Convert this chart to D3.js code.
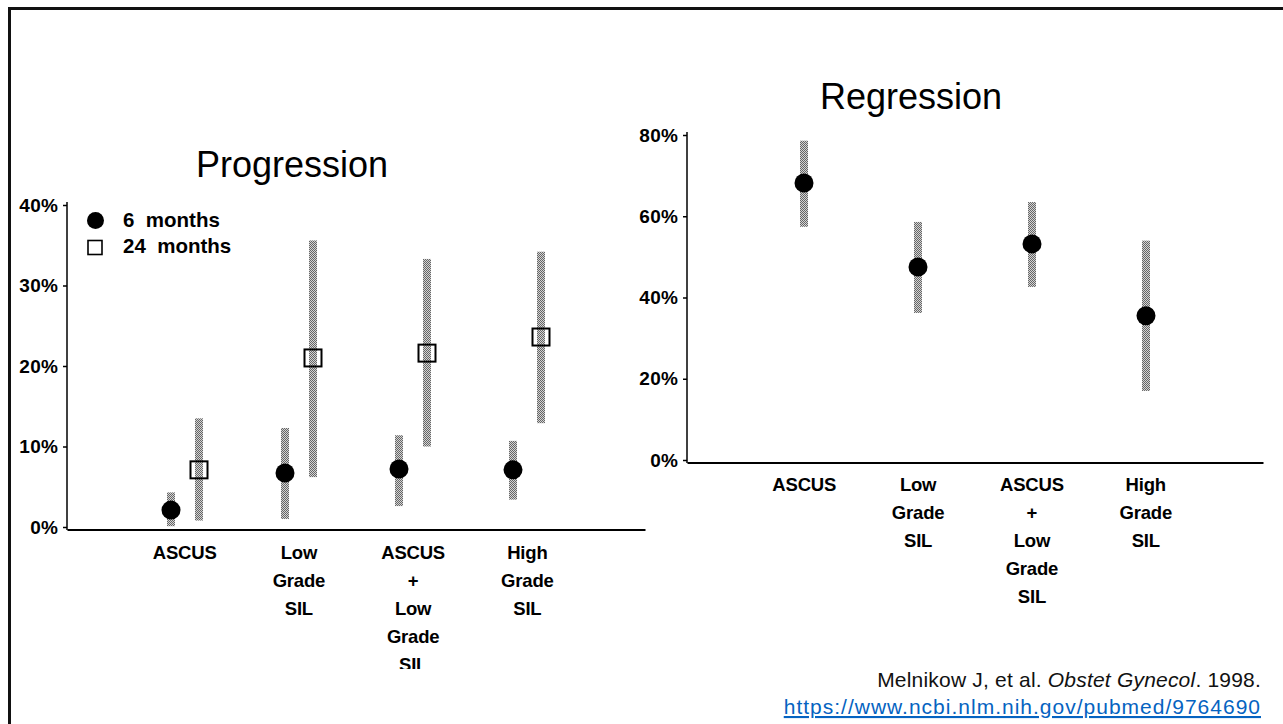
<!DOCTYPE html>
<html>
<head>
<meta charset="utf-8">
<script src="https://cdn.jsdelivr.net/npm/d3@7"></script>
<style>
  html, body { margin: 0; padding: 0; background: #fff; }
  svg { display: block; }
  .ax text { font-family: "Liberation Sans", Arial, sans-serif; font-weight: bold; fill: #000; }
</style>
</head>
<body>
<div id="chart"></div>
<script>
(function(window, document, undefined) {

    //類別 (每行一個字串)
    var categories = ["ASCUS", "Low Grade SIL", "ASCUS + Low Grade SIL", "High Grade SIL"];
    var categoryLines = [["ASCUS"], ["Low", "Grade", "SIL"], ["ASCUS", "+", "Low", "Grade", "SIL"], ["High", "Grade", "SIL"]];

    //Progression 6 months (%)
    var prog6 = [2.1, 6.7, 7.2, 7.1];
    var prog6Lo = [0.1, 1.0, 2.6, 3.4];
    var prog6Hi = [4.3, 12.3, 11.4, 10.7];

    //Progression 24 months (%)
    var prog24 = [7.1, 21.0, 21.6, 23.6];
    var prog24Lo = [0.8, 6.2, 10.0, 12.9];
    var prog24Hi = [13.5, 35.6, 33.3, 34.2];

    //Regression (%)
    var regr = [68.2, 47.5, 53.2, 35.5];
    var regrLo = [57.4, 36.2, 42.6, 17.0];
    var regrHi = [78.6, 58.6, 63.5, 54.0];

    var progTicks = [0, 10, 20, 30, 40];
    var regrTicks = [0, 20, 40, 60, 80];

    var legendLabels = ["6  months", "24  months"];

    var W = 1283, H = 724;

    var svg = d3.select("#chart").append("svg")
        .attr("width", W)
        .attr("height", H);

    //點狀灰色 (掃描的網點)
    var defs = svg.append("defs");
    var pat = defs.append("pattern")
        .attr("id", "stip")
        .attr("width", 2).attr("height", 2)
        .attr("patternUnits", "userSpaceOnUse");
    pat.append("rect").attr("width", 2).attr("height", 2).attr("fill", "#d4d4d4");
    pat.append("rect").attr("x", 0).attr("y", 0).attr("width", 1).attr("height", 1).attr("fill", "#666");
    pat.append("rect").attr("x", 1).attr("y", 1).attr("width", 1).attr("height", 1).attr("fill", "#666");

    defs.append("clipPath").attr("id", "leftClip")
        .append("rect").attr("x", 0).attr("y", 0).attr("width", 660).attr("height", 669);

    //投影片外框
    svg.append("line").attr("x1", 8).attr("x2", W).attr("y1", 8.5).attr("y2", 8.5)
        .attr("stroke", "#111").attr("stroke-width", 3);
    svg.append("line").attr("x1", 9.5).attr("x2", 9.5).attr("y1", 7).attr("y2", H)
        .attr("stroke", "#111").attr("stroke-width", 3);

    function drawPanel(g, cfg) {
        var x = d3.scaleBand()
            .domain(categories)
            .range([cfg.x0, cfg.x1])
            .paddingInner(0)
            .paddingOuter(0.53);

        var y = d3.scaleLinear()
            .domain([0, cfg.ticks[cfg.ticks.length - 1]])
            .range([cfg.y0, cfg.yTop]);

        //title
        g.append("text")
            .attr("x", cfg.titleX)
            .attr("y", cfg.titleY)
            .attr("text-anchor", "middle")
            .style("font-family", "'Liberation Sans', Arial, sans-serif")
            .style("font-size", "36px")
            .text(cfg.title);

        //y axis
        var yAxis = g.append("g")
            .attr("class", "ax")
            .attr("transform", "translate(" + cfg.x0 + ",0)")
            .call(d3.axisLeft(y).tickValues(cfg.ticks).tickSize(4).tickSizeOuter(0).tickPadding(5)
                .tickFormat(function(d) { return d + "%"; }));
        yAxis.select(".domain").remove();
        yAxis.selectAll(".tick line").attr("stroke", "#000").attr("stroke-width", 1.5);
        yAxis.selectAll(".tick text").style("font-size", "19px").style("letter-spacing", "0.2px");
        g.append("line")
            .attr("x1", cfg.x0).attr("x2", cfg.x0)
            .attr("y1", cfg.yTop - 3).attr("y2", cfg.y0 + 3)
            .attr("stroke", "#000").attr("stroke-width", 1.5);

        //x axis
        var xAxis = g.append("g")
            .attr("class", "ax")
            .attr("transform", "translate(0," + (cfg.y0 + 2.5) + ")")
            .call(d3.axisBottom(x).tickSize(0).tickSizeOuter(0).tickPadding(0));
        xAxis.select(".domain").attr("stroke", "#000").attr("stroke-width", 2);
        xAxis.selectAll(".tick text").each(function(d) {
            var t = d3.select(this).text(null).attr("y", 0).attr("dy", null)
                .style("font-size", "18.5px").style("letter-spacing", "-0.2px");
            categoryLines[categories.indexOf(d)].forEach(function(s, i) {
                t.append("tspan").attr("x", 0).attr("y", cfg.labelY + i * 28 - cfg.y0 - 2.5).text(s);
            });
        });

        //error bars + markers
        cfg.series.forEach(function(s) {
            var sg = g.append("g");
            sg.selectAll("rect.bar")
                .data(categories).enter()
                .append("rect")
                .attr("class", "bar")
                .attr("x", function(d, i) { return Math.round(x(d) + x.bandwidth() / 2 + s.dx - 4); })
                .attr("width", 8)
                .attr("y", function(d, i) { return y(s.hi[i]); })
                .attr("height", function(d, i) { return y(s.lo[i]) - y(s.hi[i]); })
                .attr("fill", "url(#stip)");

            if (s.shape === "circle") {
                sg.selectAll("circle")
                    .data(categories).enter()
                    .append("circle")
                    .attr("cx", function(d) { return Math.round(x(d) + x.bandwidth() / 2 + s.dx); })
                    .attr("cy", function(d, i) { return y(s.val[i]); })
                    .attr("r", 9.5)
                    .attr("fill", "#000");
            } else {
                sg.selectAll("rect.sq")
                    .data(categories).enter()
                    .append("rect")
                    .attr("class", "sq")
                    .attr("x", function(d) { return Math.round(x(d) + x.bandwidth() / 2 + s.dx) - 8.5; })
                    .attr("y", function(d, i) { return y(s.val[i]) - 8.5; })
                    .attr("width", 17).attr("height", 17)
                    .attr("fill", "none")
                    .attr("stroke", "#000")
                    .attr("stroke-width", 2);
            }
        });
    }

    //左: Progression
    var left = svg.append("g").attr("clip-path", "url(#leftClip)");
    drawPanel(left, {
        title: "Progression", titleX: 292, titleY: 177,
        x0: 67, x1: 645, y0: 527, yTop: 205,
        ticks: progTicks, labelY: 559,
        series: [
            {val: prog6, lo: prog6Lo, hi: prog6Hi, dx: -14, shape: "circle"},
            {val: prog24, lo: prog24Lo, hi: prog24Hi, dx: 14, shape: "square"}
        ]
    });

    //legend
    var leg = left.append("g").style("font-family", "'Liberation Sans', Arial, sans-serif")
        .style("font-size", "20.5px").style("font-weight", "bold");
    leg.append("circle").attr("cx", 95.5).attr("cy", 220.5).attr("r", 8.5).attr("fill", "#000");
    leg.append("rect").attr("x", 88).attr("y", 240.5).attr("width", 14).attr("height", 14)
        .attr("fill", "#fff").attr("stroke", "#000").attr("stroke-width", 1.6);
    leg.selectAll("text.lg")
        .data(legendLabels).enter()
        .append("text")
        .attr("class", "lg")
        .attr("x", 123)
        .attr("y", function(d, i) { return 227 + i * 26; })
        .style("white-space", "pre")
        .attr("xml:space", "preserve")
        .text(function(d) { return d; });

    //右: Regression
    var right = svg.append("g");
    drawPanel(right, {
        title: "Regression", titleX: 911, titleY: 109,
        x0: 687, x1: 1263, y0: 460, yTop: 135,
        ticks: regrTicks, labelY: 491,
        series: [
            {val: regr, lo: regrLo, hi: regrHi, dx: 0, shape: "circle"}
        ]
    });

    //出處
    var cite = svg.append("text")
        .attr("x", 1261).attr("y", 687)
        .attr("text-anchor", "end")
        .style("font-family", "'Liberation Sans', Arial, sans-serif")
        .style("font-size", "21px")
        .style("letter-spacing", "0.2px")
        .style("fill", "#111");
    cite.append("tspan").text("Melnikow J, et al. ");
    cite.append("tspan").style("font-style", "italic").text("Obstet Gynecol");
    cite.append("tspan").text(". 1998.");

    svg.append("text")
        .attr("x", 1261).attr("y", 714)
        .attr("text-anchor", "end")
        .style("font-family", "'Liberation Sans', Arial, sans-serif")
        .style("font-size", "21px")
        .style("letter-spacing", "1px")
        .style("fill", "#0563c1")
        .style("text-decoration", "underline")
        .text("https://www.ncbi.nlm.nih.gov/pubmed/9764690");

})(window, document);
</script>
</body>
</html>
